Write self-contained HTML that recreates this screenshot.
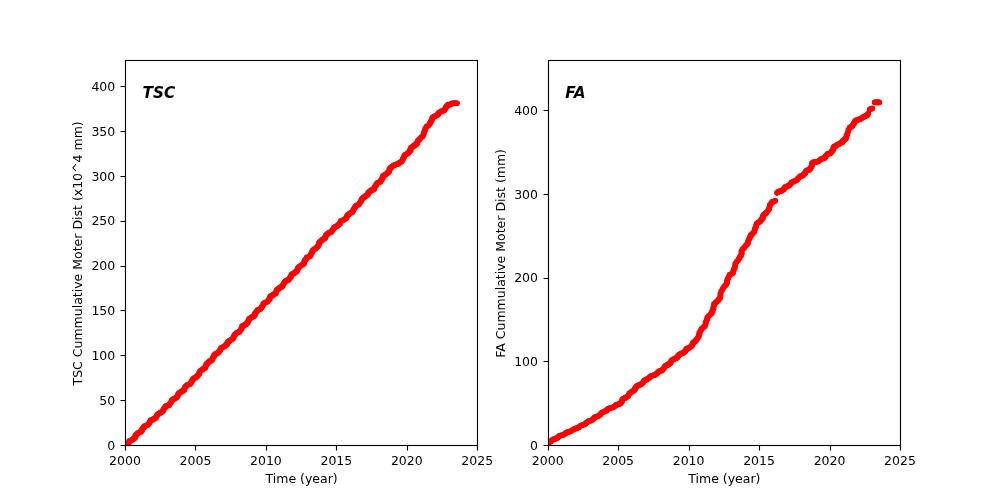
<!DOCTYPE html>
<html lang="en"><head><meta charset="utf-8"><title>Cumulative Motor Distance</title>
<style>
html,body{margin:0;padding:0;background:#fff;}
body{width:1000px;height:500px;overflow:hidden;}
svg{display:block;}
svg text{font-family:'DejaVu Sans','Liberation Sans',sans-serif;font-size:12.5px;fill:#000;}
.t{text-anchor:middle;}
.e{text-anchor:end;}
.b{font-size:15.28px;font-weight:700;font-style:italic;}
.ax{fill:none;stroke:#000;stroke-width:1.11;stroke-linecap:square;stroke-linejoin:miter;}
.tk{stroke:#000;stroke-width:1.11;fill:none;}
.d{fill:#f00;}
</style></head>
<body>
<svg width="1000" height="500" viewBox="0 0 1000 500">
<rect x="0" y="0" width="1000" height="500" fill="#fff"/>
<g>
<clipPath id="c0"><rect x="125.500" y="60.500" width="352.000" height="385.000"/></clipPath>
<g class="d" clip-path="url(#c0)">
<circle cx="127.72" cy="445.12" r="2.78"/><circle cx="127.81" cy="444.03" r="2.78"/><circle cx="128.73" cy="443.78" r="2.78"/><circle cx="128.69" cy="442.56" r="2.78"/><circle cx="129.30" cy="442.01" r="2.78"/><circle cx="129.27" cy="440.79" r="2.78"/><circle cx="130.54" cy="440.90" r="2.78"/><circle cx="131.03" cy="440.21" r="2.78"/><circle cx="132.17" cy="440.18" r="2.78"/><circle cx="132.34" cy="439.17" r="2.78"/><circle cx="133.57" cy="439.23" r="2.78"/><circle cx="133.78" cy="438.26" r="2.78"/><circle cx="134.93" cy="438.22" r="2.78"/><circle cx="134.91" cy="437.02" r="2.78"/><circle cx="135.67" cy="436.59" r="2.78"/><circle cx="135.38" cy="435.13" r="2.78"/><circle cx="136.40" cy="434.95" r="2.78"/><circle cx="136.74" cy="434.11" r="2.78"/><circle cx="137.62" cy="433.81" r="2.78"/><circle cx="137.88" cy="432.89" r="2.78"/><circle cx="138.90" cy="432.72" r="2.78"/><circle cx="139.49" cy="432.12" r="2.78"/><circle cx="140.69" cy="432.13" r="2.78"/><circle cx="140.99" cy="431.24" r="2.78"/><circle cx="141.97" cy="431.04" r="2.78"/><circle cx="141.73" cy="429.63" r="2.78"/><circle cx="142.62" cy="429.32" r="2.78"/><circle cx="142.66" cy="428.20" r="2.78"/><circle cx="143.72" cy="428.06" r="2.78"/><circle cx="143.62" cy="426.77" r="2.78"/><circle cx="144.62" cy="426.59" r="2.78"/><circle cx="144.86" cy="425.66" r="2.78"/><circle cx="146.12" cy="425.85" r="2.78"/><circle cx="146.69" cy="425.31" r="2.78"/><circle cx="147.79" cy="425.35" r="2.78"/><circle cx="147.82" cy="424.20" r="2.78"/><circle cx="148.75" cy="424.06" r="2.78"/><circle cx="148.93" cy="423.08" r="2.78"/><circle cx="149.80" cy="422.85" r="2.78"/><circle cx="149.82" cy="421.70" r="2.78"/><circle cx="150.53" cy="421.31" r="2.78"/><circle cx="150.51" cy="420.10" r="2.78"/><circle cx="151.62" cy="420.16" r="2.78"/><circle cx="152.20" cy="419.62" r="2.78"/><circle cx="153.27" cy="419.63" r="2.78"/><circle cx="153.54" cy="418.74" r="2.78"/><circle cx="154.65" cy="418.79" r="2.78"/><circle cx="154.95" cy="417.95" r="2.78"/><circle cx="156.06" cy="418.01" r="2.78"/><circle cx="156.08" cy="416.84" r="2.78"/><circle cx="156.76" cy="416.41" r="2.78"/><circle cx="156.75" cy="415.23" r="2.78"/><circle cx="157.51" cy="414.90" r="2.78"/><circle cx="157.74" cy="413.96" r="2.78"/><circle cx="158.86" cy="414.03" r="2.78"/><circle cx="159.17" cy="413.21" r="2.78"/><circle cx="160.14" cy="413.08" r="2.78"/><circle cx="160.53" cy="412.29" r="2.78"/><circle cx="161.76" cy="412.35" r="2.78"/><circle cx="162.18" cy="411.58" r="2.78"/><circle cx="163.11" cy="411.34" r="2.78"/><circle cx="163.06" cy="410.11" r="2.78"/><circle cx="163.65" cy="409.53" r="2.78"/><circle cx="163.71" cy="408.41" r="2.78"/><circle cx="164.69" cy="408.21" r="2.78"/><circle cx="164.78" cy="407.14" r="2.78"/><circle cx="165.74" cy="406.91" r="2.78"/><circle cx="165.86" cy="405.86" r="2.78"/><circle cx="167.15" cy="405.97" r="2.78"/><circle cx="167.73" cy="405.38" r="2.78"/><circle cx="169.12" cy="405.59" r="2.78"/><circle cx="169.17" cy="404.46" r="2.78"/><circle cx="169.96" cy="404.07" r="2.78"/><circle cx="170.05" cy="402.99" r="2.78"/><circle cx="171.07" cy="402.83" r="2.78"/><circle cx="171.08" cy="401.67" r="2.78"/><circle cx="171.84" cy="401.25" r="2.78"/><circle cx="171.72" cy="399.96" r="2.78"/><circle cx="172.63" cy="399.69" r="2.78"/><circle cx="173.09" cy="398.98" r="2.78"/><circle cx="174.52" cy="399.23" r="2.78"/><circle cx="174.71" cy="398.24" r="2.78"/><circle cx="175.87" cy="398.23" r="2.78"/><circle cx="176.00" cy="397.18" r="2.78"/><circle cx="177.15" cy="397.15" r="2.78"/><circle cx="177.30" cy="396.13" r="2.78"/><circle cx="178.01" cy="395.66" r="2.78"/><circle cx="177.83" cy="394.31" r="2.78"/><circle cx="178.67" cy="393.97" r="2.78"/><circle cx="178.83" cy="392.96" r="2.78"/><circle cx="179.95" cy="392.89" r="2.78"/><circle cx="180.33" cy="392.10" r="2.78"/><circle cx="181.42" cy="392.02" r="2.78"/><circle cx="181.69" cy="391.10" r="2.78"/><circle cx="182.90" cy="391.14" r="2.78"/><circle cx="183.24" cy="390.31" r="2.78"/><circle cx="184.27" cy="390.16" r="2.78"/><circle cx="184.18" cy="388.89" r="2.78"/><circle cx="184.81" cy="388.35" r="2.78"/><circle cx="184.78" cy="387.14" r="2.78"/><circle cx="185.88" cy="387.07" r="2.78"/><circle cx="185.92" cy="385.93" r="2.78"/><circle cx="186.91" cy="385.75" r="2.78"/><circle cx="187.10" cy="384.76" r="2.78"/><circle cx="188.37" cy="384.85" r="2.78"/><circle cx="188.89" cy="384.19" r="2.78"/><circle cx="190.21" cy="384.34" r="2.78"/><circle cx="190.25" cy="383.20" r="2.78"/><circle cx="191.26" cy="383.04" r="2.78"/><circle cx="191.18" cy="381.78" r="2.78"/><circle cx="192.05" cy="381.47" r="2.78"/><circle cx="192.07" cy="380.32" r="2.78"/><circle cx="192.99" cy="380.06" r="2.78"/><circle cx="192.91" cy="378.83" r="2.78"/><circle cx="193.68" cy="378.41" r="2.78"/><circle cx="194.26" cy="377.76" r="2.78"/><circle cx="195.70" cy="377.86" r="2.78"/><circle cx="195.99" cy="376.94" r="2.78"/><circle cx="197.11" cy="376.76" r="2.78"/><circle cx="197.12" cy="375.58" r="2.78"/><circle cx="198.12" cy="375.29" r="2.78"/><circle cx="198.48" cy="374.42" r="2.78"/><circle cx="199.37" cy="374.03" r="2.78"/><circle cx="199.10" cy="372.61" r="2.78"/><circle cx="199.80" cy="372.05" r="2.78"/><circle cx="199.89" cy="370.95" r="2.78"/><circle cx="201.06" cy="370.80" r="2.78"/><circle cx="201.40" cy="369.93" r="2.78"/><circle cx="202.51" cy="369.72" r="2.78"/><circle cx="202.78" cy="368.78" r="2.78"/><circle cx="204.03" cy="368.72" r="2.78"/><circle cx="204.46" cy="367.91" r="2.78"/><circle cx="205.59" cy="367.74" r="2.78"/><circle cx="205.38" cy="366.36" r="2.78"/><circle cx="206.05" cy="365.78" r="2.78"/><circle cx="205.99" cy="364.54" r="2.78"/><circle cx="206.97" cy="364.23" r="2.78"/><circle cx="207.08" cy="363.14" r="2.78"/><circle cx="208.11" cy="362.88" r="2.78"/><circle cx="208.35" cy="361.91" r="2.78"/><circle cx="209.52" cy="361.77" r="2.78"/><circle cx="209.83" cy="360.86" r="2.78"/><circle cx="211.19" cy="360.89" r="2.78"/><circle cx="211.48" cy="359.97" r="2.78"/><circle cx="212.45" cy="359.64" r="2.78"/><circle cx="212.37" cy="358.39" r="2.78"/><circle cx="213.20" cy="357.94" r="2.78"/><circle cx="213.11" cy="356.68" r="2.78"/><circle cx="214.23" cy="356.49" r="2.78"/><circle cx="214.02" cy="355.12" r="2.78"/><circle cx="214.91" cy="354.74" r="2.78"/><circle cx="215.29" cy="353.89" r="2.78"/><circle cx="216.74" cy="354.00" r="2.78"/><circle cx="217.06" cy="353.10" r="2.78"/><circle cx="218.34" cy="353.10" r="2.78"/><circle cx="218.43" cy="352.01" r="2.78"/><circle cx="219.20" cy="351.66" r="2.78"/><circle cx="219.32" cy="350.63" r="2.78"/><circle cx="220.28" cy="350.48" r="2.78"/><circle cx="220.41" cy="349.45" r="2.78"/><circle cx="221.07" cy="348.98" r="2.78"/><circle cx="221.02" cy="347.75" r="2.78"/><circle cx="222.00" cy="347.61" r="2.78"/><circle cx="222.64" cy="347.12" r="2.78"/><circle cx="223.71" cy="347.10" r="2.78"/><circle cx="224.11" cy="346.35" r="2.78"/><circle cx="225.02" cy="346.15" r="2.78"/><circle cx="225.31" cy="345.28" r="2.78"/><circle cx="226.45" cy="345.33" r="2.78"/><circle cx="226.54" cy="344.24" r="2.78"/><circle cx="227.33" cy="343.91" r="2.78"/><circle cx="227.20" cy="342.60" r="2.78"/><circle cx="227.90" cy="342.16" r="2.78"/><circle cx="228.22" cy="341.34" r="2.78"/><circle cx="229.39" cy="341.41" r="2.78"/><circle cx="229.60" cy="340.49" r="2.78"/><circle cx="230.50" cy="340.17" r="2.78"/><circle cx="231.00" cy="339.46" r="2.78"/><circle cx="232.30" cy="339.48" r="2.78"/><circle cx="232.59" cy="338.57" r="2.78"/><circle cx="233.60" cy="338.34" r="2.78"/><circle cx="233.36" cy="336.94" r="2.78"/><circle cx="234.12" cy="336.46" r="2.78"/><circle cx="234.20" cy="335.36" r="2.78"/><circle cx="235.19" cy="335.09" r="2.78"/><circle cx="235.26" cy="333.98" r="2.78"/><circle cx="236.11" cy="333.60" r="2.78"/><circle cx="236.43" cy="332.72" r="2.78"/><circle cx="237.63" cy="332.65" r="2.78"/><circle cx="238.27" cy="332.06" r="2.78"/><circle cx="239.55" cy="332.08" r="2.78"/><circle cx="239.66" cy="331.00" r="2.78"/><circle cx="240.39" cy="330.50" r="2.78"/><circle cx="240.52" cy="329.44" r="2.78"/><circle cx="241.46" cy="329.14" r="2.78"/><circle cx="241.49" cy="327.99" r="2.78"/><circle cx="242.18" cy="327.45" r="2.78"/><circle cx="241.99" cy="326.10" r="2.78"/><circle cx="243.03" cy="325.88" r="2.78"/><circle cx="243.62" cy="325.26" r="2.78"/><circle cx="244.99" cy="325.35" r="2.78"/><circle cx="245.27" cy="324.43" r="2.78"/><circle cx="246.41" cy="324.30" r="2.78"/><circle cx="246.41" cy="323.13" r="2.78"/><circle cx="247.63" cy="323.09" r="2.78"/><circle cx="247.76" cy="322.03" r="2.78"/><circle cx="248.50" cy="321.53" r="2.78"/><circle cx="248.38" cy="320.25" r="2.78"/><circle cx="249.12" cy="319.75" r="2.78"/><circle cx="249.12" cy="318.57" r="2.78"/><circle cx="250.34" cy="318.53" r="2.78"/><circle cx="250.83" cy="317.81" r="2.78"/><circle cx="251.86" cy="317.59" r="2.78"/><circle cx="252.01" cy="316.55" r="2.78"/><circle cx="253.46" cy="316.71" r="2.78"/><circle cx="253.69" cy="315.75" r="2.78"/><circle cx="254.86" cy="315.65" r="2.78"/><circle cx="254.68" cy="314.32" r="2.78"/><circle cx="255.29" cy="313.70" r="2.78"/><circle cx="255.33" cy="312.56" r="2.78"/><circle cx="256.38" cy="312.36" r="2.78"/><circle cx="256.48" cy="311.27" r="2.78"/><circle cx="257.44" cy="310.98" r="2.78"/><circle cx="257.49" cy="309.85" r="2.78"/><circle cx="258.72" cy="309.82" r="2.78"/><circle cx="259.34" cy="309.22" r="2.78"/><circle cx="260.57" cy="309.18" r="2.78"/><circle cx="260.74" cy="308.16" r="2.78"/><circle cx="261.60" cy="307.78" r="2.78"/><circle cx="261.65" cy="306.65" r="2.78"/><circle cx="262.56" cy="306.33" r="2.78"/><circle cx="262.69" cy="305.28" r="2.78"/><circle cx="263.47" cy="304.86" r="2.78"/><circle cx="263.27" cy="303.49" r="2.78"/><circle cx="264.19" cy="303.21" r="2.78"/><circle cx="264.70" cy="302.53" r="2.78"/><circle cx="265.96" cy="302.57" r="2.78"/><circle cx="266.56" cy="301.98" r="2.78"/><circle cx="267.60" cy="301.80" r="2.78"/><circle cx="267.70" cy="300.72" r="2.78"/><circle cx="268.58" cy="300.40" r="2.78"/><circle cx="268.81" cy="299.45" r="2.78"/><circle cx="269.81" cy="299.24" r="2.78"/><circle cx="269.49" cy="297.76" r="2.78"/><circle cx="270.20" cy="297.27" r="2.78"/><circle cx="270.22" cy="296.11" r="2.78"/><circle cx="271.46" cy="296.14" r="2.78"/><circle cx="271.97" cy="295.46" r="2.78"/><circle cx="273.13" cy="295.40" r="2.78"/><circle cx="273.22" cy="294.32" r="2.78"/><circle cx="274.33" cy="294.21" r="2.78"/><circle cx="274.84" cy="293.53" r="2.78"/><circle cx="276.04" cy="293.52" r="2.78"/><circle cx="275.92" cy="292.23" r="2.78"/><circle cx="276.58" cy="291.69" r="2.78"/><circle cx="276.41" cy="290.35" r="2.78"/><circle cx="277.23" cy="289.97" r="2.78"/><circle cx="277.57" cy="289.12" r="2.78"/><circle cx="278.64" cy="288.98" r="2.78"/><circle cx="278.86" cy="288.02" r="2.78"/><circle cx="279.97" cy="287.91" r="2.78"/><circle cx="280.25" cy="287.01" r="2.78"/><circle cx="281.68" cy="287.22" r="2.78"/><circle cx="281.91" cy="286.27" r="2.78"/><circle cx="282.88" cy="286.03" r="2.78"/><circle cx="282.78" cy="284.75" r="2.78"/><circle cx="283.54" cy="284.32" r="2.78"/><circle cx="283.63" cy="283.23" r="2.78"/><circle cx="284.60" cy="282.99" r="2.78"/><circle cx="284.58" cy="281.80" r="2.78"/><circle cx="285.46" cy="281.48" r="2.78"/><circle cx="285.82" cy="280.65" r="2.78"/><circle cx="287.19" cy="280.80" r="2.78"/><circle cx="287.59" cy="280.01" r="2.78"/><circle cx="288.72" cy="279.92" r="2.78"/><circle cx="288.92" cy="278.95" r="2.78"/><circle cx="289.72" cy="278.55" r="2.78"/><circle cx="289.81" cy="277.46" r="2.78"/><circle cx="290.85" cy="277.29" r="2.78"/><circle cx="290.83" cy="276.09" r="2.78"/><circle cx="291.37" cy="275.44" r="2.78"/><circle cx="291.46" cy="274.35" r="2.78"/><circle cx="292.62" cy="274.30" r="2.78"/><circle cx="293.06" cy="273.55" r="2.78"/><circle cx="294.25" cy="273.53" r="2.78"/><circle cx="294.41" cy="272.50" r="2.78"/><circle cx="295.67" cy="272.55" r="2.78"/><circle cx="295.89" cy="271.59" r="2.78"/><circle cx="296.91" cy="271.39" r="2.78"/><circle cx="297.19" cy="270.49" r="2.78"/><circle cx="297.68" cy="269.79" r="2.78"/><circle cx="297.48" cy="268.42" r="2.78"/><circle cx="298.39" cy="268.13" r="2.78"/><circle cx="298.54" cy="267.13" r="2.78"/><circle cx="299.73" cy="267.08" r="2.78"/><circle cx="299.96" cy="266.09" r="2.78"/><circle cx="301.02" cy="265.80" r="2.78"/><circle cx="301.44" cy="264.94" r="2.78"/><circle cx="302.72" cy="264.81" r="2.78"/><circle cx="303.13" cy="263.95" r="2.78"/><circle cx="304.23" cy="263.67" r="2.78"/><circle cx="303.90" cy="262.20" r="2.78"/><circle cx="304.57" cy="261.56" r="2.78"/><circle cx="304.58" cy="260.37" r="2.78"/><circle cx="305.65" cy="260.06" r="2.78"/><circle cx="305.84" cy="259.02" r="2.78"/><circle cx="306.53" cy="258.40" r="2.78"/><circle cx="306.67" cy="257.32" r="2.78"/><circle cx="308.04" cy="257.26" r="2.78"/><circle cx="308.80" cy="256.69" r="2.78"/><circle cx="309.98" cy="256.47" r="2.78"/><circle cx="310.06" cy="255.35" r="2.78"/><circle cx="310.98" cy="254.91" r="2.78"/><circle cx="310.95" cy="253.69" r="2.78"/><circle cx="311.87" cy="253.25" r="2.78"/><circle cx="311.85" cy="252.05" r="2.78"/><circle cx="312.76" cy="251.61" r="2.78"/><circle cx="312.53" cy="250.22" r="2.78"/><circle cx="313.60" cy="249.91" r="2.78"/><circle cx="314.12" cy="249.14" r="2.78"/><circle cx="315.48" cy="249.07" r="2.78"/><circle cx="315.62" cy="247.99" r="2.78"/><circle cx="316.74" cy="247.72" r="2.78"/><circle cx="316.93" cy="246.69" r="2.78"/><circle cx="318.07" cy="246.43" r="2.78"/><circle cx="318.32" cy="245.44" r="2.78"/><circle cx="319.02" cy="244.83" r="2.78"/><circle cx="318.67" cy="243.35" r="2.78"/><circle cx="319.50" cy="242.83" r="2.78"/><circle cx="319.53" cy="241.67" r="2.78"/><circle cx="320.92" cy="241.62" r="2.78"/><circle cx="321.08" cy="240.56" r="2.78"/><circle cx="322.30" cy="240.37" r="2.78"/><circle cx="322.42" cy="239.28" r="2.78"/><circle cx="323.88" cy="239.29" r="2.78"/><circle cx="324.35" cy="238.49" r="2.78"/><circle cx="325.34" cy="238.17" r="2.78"/><circle cx="325.10" cy="236.74" r="2.78"/><circle cx="325.90" cy="236.42" r="2.78"/><circle cx="325.71" cy="235.06" r="2.78"/><circle cx="326.69" cy="234.94" r="2.78"/><circle cx="326.98" cy="234.08" r="2.78"/><circle cx="327.89" cy="233.89" r="2.78"/><circle cx="328.10" cy="232.94" r="2.78"/><circle cx="329.14" cy="232.90" r="2.78"/><circle cx="329.71" cy="232.34" r="2.78"/><circle cx="330.93" cy="232.50" r="2.78"/><circle cx="331.15" cy="231.55" r="2.78"/><circle cx="331.95" cy="231.25" r="2.78"/><circle cx="332.07" cy="230.20" r="2.78"/><circle cx="332.99" cy="230.02" r="2.78"/><circle cx="333.15" cy="229.02" r="2.78"/><circle cx="333.84" cy="228.59" r="2.78"/><circle cx="333.86" cy="227.44" r="2.78"/><circle cx="334.81" cy="227.30" r="2.78"/><circle cx="335.19" cy="226.53" r="2.78"/><circle cx="336.42" cy="226.70" r="2.78"/><circle cx="336.88" cy="226.02" r="2.78"/><circle cx="337.87" cy="225.92" r="2.78"/><circle cx="337.98" cy="224.86" r="2.78"/><circle cx="338.96" cy="224.75" r="2.78"/><circle cx="339.21" cy="223.85" r="2.78"/><circle cx="340.21" cy="223.76" r="2.78"/><circle cx="340.03" cy="222.38" r="2.78"/><circle cx="340.76" cy="222.00" r="2.78"/><circle cx="340.77" cy="220.83" r="2.78"/><circle cx="341.91" cy="220.90" r="2.78"/><circle cx="342.46" cy="220.32" r="2.78"/><circle cx="343.46" cy="220.22" r="2.78"/><circle cx="343.82" cy="219.45" r="2.78"/><circle cx="344.83" cy="219.36" r="2.78"/><circle cx="345.29" cy="218.68" r="2.78"/><circle cx="346.24" cy="218.55" r="2.78"/><circle cx="346.44" cy="217.59" r="2.78"/><circle cx="347.07" cy="217.10" r="2.78"/><circle cx="346.92" cy="215.76" r="2.78"/><circle cx="347.74" cy="215.47" r="2.78"/><circle cx="347.95" cy="214.57" r="2.78"/><circle cx="349.03" cy="214.50" r="2.78"/><circle cx="349.19" cy="213.44" r="2.78"/><circle cx="350.28" cy="213.22" r="2.78"/><circle cx="350.85" cy="212.54" r="2.78"/><circle cx="352.16" cy="212.49" r="2.78"/><circle cx="352.54" cy="211.63" r="2.78"/><circle cx="353.28" cy="211.09" r="2.78"/><circle cx="353.21" cy="209.84" r="2.78"/><circle cx="353.93" cy="209.28" r="2.78"/><circle cx="354.18" cy="208.32" r="2.78"/><circle cx="355.06" cy="207.89" r="2.78"/><circle cx="355.00" cy="206.66" r="2.78"/><circle cx="355.82" cy="206.19" r="2.78"/><circle cx="356.19" cy="205.32" r="2.78"/><circle cx="357.59" cy="205.35" r="2.78"/><circle cx="358.20" cy="204.69" r="2.78"/><circle cx="359.18" cy="204.36" r="2.78"/><circle cx="359.38" cy="203.35" r="2.78"/><circle cx="360.19" cy="202.86" r="2.78"/><circle cx="360.36" cy="201.83" r="2.78"/><circle cx="361.21" cy="201.38" r="2.78"/><circle cx="361.15" cy="200.15" r="2.78"/><circle cx="361.86" cy="199.58" r="2.78"/><circle cx="361.89" cy="198.41" r="2.78"/><circle cx="362.95" cy="198.15" r="2.78"/><circle cx="363.35" cy="197.31" r="2.78"/><circle cx="364.70" cy="197.32" r="2.78"/><circle cx="364.86" cy="196.24" r="2.78"/><circle cx="366.08" cy="196.34" r="2.78"/><circle cx="366.23" cy="195.35" r="2.78"/><circle cx="367.30" cy="195.33" r="2.78"/><circle cx="367.46" cy="194.33" r="2.78"/><circle cx="368.29" cy="194.05" r="2.78"/><circle cx="368.09" cy="192.65" r="2.78"/><circle cx="368.98" cy="192.44" r="2.78"/><circle cx="369.26" cy="191.56" r="2.78"/><circle cx="370.24" cy="191.45" r="2.78"/><circle cx="370.47" cy="190.51" r="2.78"/><circle cx="371.61" cy="190.56" r="2.78"/><circle cx="371.79" cy="189.60" r="2.78"/><circle cx="373.23" cy="189.91" r="2.78"/><circle cx="373.67" cy="189.15" r="2.78"/><circle cx="374.52" cy="188.69" r="2.78"/><circle cx="374.42" cy="187.39" r="2.78"/><circle cx="375.17" cy="186.86" r="2.78"/><circle cx="375.21" cy="185.71" r="2.78"/><circle cx="376.25" cy="185.43" r="2.78"/><circle cx="376.29" cy="184.27" r="2.78"/><circle cx="377.06" cy="183.76" r="2.78"/><circle cx="377.17" cy="182.67" r="2.78"/><circle cx="378.70" cy="182.81" r="2.78"/><circle cx="379.06" cy="181.95" r="2.78"/><circle cx="380.52" cy="182.02" r="2.78"/><circle cx="380.51" cy="180.83" r="2.78"/><circle cx="381.31" cy="180.35" r="2.78"/><circle cx="381.35" cy="179.19" r="2.78"/><circle cx="382.49" cy="178.99" r="2.78"/><circle cx="382.28" cy="177.62" r="2.78"/><circle cx="383.22" cy="177.26" r="2.78"/><circle cx="382.92" cy="175.81" r="2.78"/><circle cx="384.06" cy="175.62" r="2.78"/><circle cx="384.59" cy="174.89" r="2.78"/><circle cx="385.91" cy="174.85" r="2.78"/><circle cx="386.21" cy="173.93" r="2.78"/><circle cx="387.15" cy="173.56" r="2.78"/><circle cx="387.34" cy="172.54" r="2.78"/><circle cx="388.65" cy="172.49" r="2.78"/><circle cx="388.77" cy="171.41" r="2.78"/><circle cx="389.58" cy="170.92" r="2.78"/><circle cx="389.12" cy="169.33" r="2.78"/><circle cx="390.05" cy="168.92" r="2.78"/><circle cx="390.14" cy="167.81" r="2.78"/><circle cx="391.40" cy="167.68" r="2.78"/><circle cx="391.70" cy="166.74" r="2.78"/><circle cx="392.66" cy="166.36" r="2.78"/><circle cx="393.13" cy="165.55" r="2.78"/><circle cx="394.06" cy="165.32" r="2.78"/><circle cx="394.47" cy="164.99" r="2.78"/><circle cx="395.06" cy="165.02" r="2.78"/><circle cx="395.54" cy="164.56" r="2.78"/><circle cx="396.14" cy="164.48" r="2.78"/><circle cx="396.70" cy="164.23" r="2.78"/><circle cx="397.29" cy="164.17" r="2.78"/><circle cx="397.75" cy="163.82" r="2.78"/><circle cx="398.42" cy="163.91" r="2.78"/><circle cx="398.71" cy="162.94" r="2.78"/><circle cx="399.72" cy="162.77" r="2.78"/><circle cx="400.17" cy="161.98" r="2.78"/><circle cx="401.52" cy="161.97" r="2.78"/><circle cx="401.88" cy="161.04" r="2.78"/><circle cx="402.53" cy="160.33" r="2.78"/><circle cx="402.58" cy="159.15" r="2.78"/><circle cx="403.37" cy="158.56" r="2.78"/><circle cx="403.49" cy="157.44" r="2.78"/><circle cx="404.27" cy="156.84" r="2.78"/><circle cx="404.23" cy="155.59" r="2.78"/><circle cx="405.17" cy="155.12" r="2.78"/><circle cx="405.60" cy="154.24" r="2.78"/><circle cx="406.90" cy="154.16" r="2.78"/><circle cx="407.40" cy="153.42" r="2.78"/><circle cx="408.48" cy="153.16" r="2.78"/><circle cx="408.58" cy="152.07" r="2.78"/><circle cx="409.63" cy="151.79" r="2.78"/><circle cx="409.66" cy="150.63" r="2.78"/><circle cx="410.76" cy="150.41" r="2.78"/><circle cx="410.39" cy="148.90" r="2.78"/><circle cx="411.01" cy="148.25" r="2.78"/><circle cx="411.27" cy="147.29" r="2.78"/><circle cx="412.50" cy="147.18" r="2.78"/><circle cx="412.85" cy="146.29" r="2.78"/><circle cx="414.09" cy="146.20" r="2.78"/><circle cx="414.11" cy="145.05" r="2.78"/><circle cx="415.43" cy="145.15" r="2.78"/><circle cx="415.71" cy="144.26" r="2.78"/><circle cx="416.89" cy="144.25" r="2.78"/><circle cx="416.75" cy="142.94" r="2.78"/><circle cx="417.55" cy="142.55" r="2.78"/><circle cx="417.41" cy="141.24" r="2.78"/><circle cx="418.19" cy="140.83" r="2.78"/><circle cx="418.38" cy="139.92" r="2.78"/><circle cx="419.47" cy="139.77" r="2.78"/><circle cx="419.67" cy="138.76" r="2.78"/><circle cx="420.84" cy="138.10" r="2.78"/><circle cx="421.35" cy="137.00" r="2.78"/><circle cx="422.79" cy="136.42" r="2.78"/><circle cx="423.05" cy="135.17" r="2.78"/><circle cx="423.81" cy="134.21" r="2.78"/><circle cx="423.61" cy="132.72" r="2.78"/><circle cx="424.48" cy="131.82" r="2.78"/><circle cx="424.60" cy="130.49" r="2.78"/><circle cx="425.44" cy="129.66" r="2.78"/><circle cx="425.30" cy="128.26" r="2.78"/><circle cx="426.21" cy="127.49" r="2.78"/><circle cx="426.56" cy="126.38" r="2.78"/><circle cx="428.06" cy="125.98" r="2.78"/><circle cx="428.56" cy="124.96" r="2.78"/><circle cx="429.71" cy="124.36" r="2.78"/><circle cx="429.70" cy="123.02" r="2.78"/><circle cx="430.72" cy="122.41" r="2.78"/><circle cx="430.76" cy="121.26" r="2.78"/><circle cx="431.71" cy="120.75" r="2.78"/><circle cx="431.66" cy="119.50" r="2.78"/><circle cx="432.37" cy="118.81" r="2.78"/><circle cx="432.27" cy="117.45" r="2.78"/><circle cx="433.57" cy="117.25" r="2.78"/><circle cx="433.88" cy="116.34" r="2.78"/><circle cx="435.13" cy="116.62" r="2.78"/><circle cx="435.50" cy="115.93" r="2.78"/><circle cx="436.28" cy="115.74" r="2.78"/><circle cx="436.72" cy="115.11" r="2.78"/><circle cx="437.63" cy="115.10" r="2.78"/><circle cx="437.97" cy="114.33" r="2.78"/><circle cx="438.64" cy="113.99" r="2.78"/><circle cx="438.63" cy="112.75" r="2.78"/><circle cx="439.43" cy="112.60" r="2.78"/><circle cx="439.86" cy="111.94" r="2.78"/><circle cx="440.71" cy="111.92" r="2.78"/><circle cx="441.09" cy="111.21" r="2.78"/><circle cx="441.97" cy="111.25" r="2.78"/><circle cx="442.36" cy="110.57" r="2.78"/><circle cx="443.46" cy="110.86" r="2.78"/><circle cx="443.96" cy="110.32" r="2.78"/><circle cx="444.86" cy="110.09" r="2.78"/><circle cx="444.91" cy="108.86" r="2.78"/><circle cx="445.61" cy="108.30" r="2.78"/><circle cx="445.65" cy="107.15" r="2.78"/><circle cx="446.72" cy="106.92" r="2.78"/><circle cx="446.81" cy="105.77" r="2.78"/><circle cx="447.59" cy="105.27" r="2.78"/><circle cx="447.99" cy="104.55" r="2.78"/><circle cx="448.98" cy="104.79" r="2.78"/><circle cx="449.57" cy="104.48" r="2.78"/><circle cx="450.40" cy="104.66" r="2.78"/><circle cx="450.77" cy="103.93" r="2.78"/><circle cx="451.40" cy="103.78" r="2.78"/><circle cx="451.91" cy="103.38" r="2.78"/><circle cx="452.51" cy="103.44" r="2.78"/><circle cx="453.09" cy="103.36" r="2.78"/><circle cx="453.68" cy="103.36" r="2.78"/><circle cx="454.26" cy="103.33" r="2.78"/><circle cx="454.85" cy="103.33" r="2.78"/><circle cx="455.44" cy="103.32" r="2.78"/><circle cx="456.03" cy="103.33" r="2.78"/><circle cx="456.61" cy="103.31" r="2.78"/><circle cx="457.20" cy="103.31" r="2.78"/>
</g>
<path class="tk" d="M125.50 445.50V450.50M195.50 445.50V450.50M266.50 445.50V450.50M336.50 445.50V450.50M407.50 445.50V450.50M477.50 445.50V450.50M125.50 445.50H120.50M125.50 400.50H120.50M125.50 355.50H120.50M125.50 310.50H120.50M125.50 266.50H120.50M125.50 221.50H120.50M125.50 176.50H120.50M125.50 131.50H120.50M125.50 86.50H120.50"/>
<rect class="ax" x="125.50" y="60.50" width="352.00" height="385.00"/>
<text class="t" x="125.00" y="465.27">2000</text>
<text class="t" x="195.45" y="465.27">2005</text>
<text class="t" x="265.91" y="465.27">2010</text>
<text class="t" x="336.36" y="465.27">2015</text>
<text class="t" x="406.82" y="465.27">2020</text>
<text class="t" x="477.27" y="465.27">2025</text>
<text class="e" x="115.28" y="449.75">0</text>
<text class="e" x="115.28" y="404.88">50</text>
<text class="e" x="115.28" y="360.01">100</text>
<text class="e" x="115.28" y="315.13">150</text>
<text class="e" x="115.28" y="270.26">200</text>
<text class="e" x="115.28" y="225.39">250</text>
<text class="e" x="115.28" y="180.52">300</text>
<text class="e" x="115.28" y="135.65">350</text>
<text class="e" x="115.28" y="90.78">400</text>
<text class="t" x="301.64" y="482.92">Time (year)</text>
<text class="t" transform="translate(82.26 253.4) rotate(-90)">TSC Cummulative Moter Dist (x10^4 mm)</text>
<text class="b" x="142.61" y="97.5">TSC</text>
</g>
<g>
<clipPath id="c1"><rect x="548.500" y="60.500" width="352.000" height="385.000"/></clipPath>
<g class="d" clip-path="url(#c1)">
<circle cx="548.89" cy="442.66" r="2.78"/><circle cx="549.30" cy="442.02" r="2.78"/><circle cx="550.06" cy="442.04" r="2.78"/><circle cx="550.51" cy="441.46" r="2.78"/><circle cx="551.20" cy="441.35" r="2.78"/><circle cx="551.53" cy="440.54" r="2.78"/><circle cx="552.11" cy="440.19" r="2.78"/><circle cx="552.54" cy="439.58" r="2.78"/><circle cx="553.33" cy="439.60" r="2.78"/><circle cx="553.81" cy="439.07" r="2.78"/><circle cx="554.65" cy="439.18" r="2.78"/><circle cx="555.09" cy="438.58" r="2.78"/><circle cx="555.95" cy="438.70" r="2.78"/><circle cx="556.40" cy="438.13" r="2.78"/><circle cx="557.26" cy="438.26" r="2.78"/><circle cx="557.59" cy="437.48" r="2.78"/><circle cx="558.20" cy="437.18" r="2.78"/><circle cx="558.52" cy="436.35" r="2.78"/><circle cx="559.21" cy="436.22" r="2.78"/><circle cx="559.67" cy="435.69" r="2.78"/><circle cx="560.42" cy="435.73" r="2.78"/><circle cx="560.90" cy="435.22" r="2.78"/><circle cx="561.63" cy="435.25" r="2.78"/><circle cx="562.20" cy="434.93" r="2.78"/><circle cx="563.00" cy="435.10" r="2.78"/><circle cx="563.52" cy="434.67" r="2.78"/><circle cx="564.19" cy="434.57" r="2.78"/><circle cx="564.57" cy="433.85" r="2.78"/><circle cx="565.20" cy="433.65" r="2.78"/><circle cx="565.68" cy="433.15" r="2.78"/><circle cx="566.37" cy="433.08" r="2.78"/><circle cx="566.76" cy="432.39" r="2.78"/><circle cx="567.43" cy="432.30" r="2.78"/><circle cx="567.93" cy="431.82" r="2.78"/><circle cx="568.73" cy="432.00" r="2.78"/><circle cx="569.29" cy="431.65" r="2.78"/><circle cx="570.06" cy="431.75" r="2.78"/><circle cx="570.51" cy="431.20" r="2.78"/><circle cx="571.19" cy="431.11" r="2.78"/><circle cx="571.61" cy="430.47" r="2.78"/><circle cx="572.30" cy="430.42" r="2.78"/><circle cx="572.72" cy="429.78" r="2.78"/><circle cx="573.31" cy="429.51" r="2.78"/><circle cx="573.76" cy="428.94" r="2.78"/><circle cx="574.50" cy="428.97" r="2.78"/><circle cx="575.06" cy="428.64" r="2.78"/><circle cx="575.80" cy="428.65" r="2.78"/><circle cx="576.28" cy="428.15" r="2.78"/><circle cx="577.02" cy="428.16" r="2.78"/><circle cx="577.52" cy="427.68" r="2.78"/><circle cx="578.33" cy="427.83" r="2.78"/><circle cx="578.73" cy="427.16" r="2.78"/><circle cx="579.39" cy="427.01" r="2.78"/><circle cx="579.70" cy="426.16" r="2.78"/><circle cx="580.34" cy="425.99" r="2.78"/><circle cx="580.85" cy="425.54" r="2.78"/><circle cx="581.59" cy="425.54" r="2.78"/><circle cx="582.04" cy="424.98" r="2.78"/><circle cx="582.81" cy="425.05" r="2.78"/><circle cx="583.30" cy="424.53" r="2.78"/><circle cx="584.19" cy="424.70" r="2.78"/><circle cx="584.74" cy="424.27" r="2.78"/><circle cx="585.43" cy="424.09" r="2.78"/><circle cx="585.73" cy="423.26" r="2.78"/><circle cx="586.34" cy="422.94" r="2.78"/><circle cx="586.76" cy="422.31" r="2.78"/><circle cx="587.48" cy="422.19" r="2.78"/><circle cx="587.87" cy="421.50" r="2.78"/><circle cx="588.58" cy="421.35" r="2.78"/><circle cx="588.99" cy="420.70" r="2.78"/><circle cx="589.91" cy="420.89" r="2.78"/><circle cx="590.43" cy="420.44" r="2.78"/><circle cx="591.37" cy="420.67" r="2.78"/><circle cx="591.74" cy="419.95" r="2.78"/><circle cx="592.41" cy="419.74" r="2.78"/><circle cx="592.78" cy="419.03" r="2.78"/><circle cx="593.53" cy="418.94" r="2.78"/><circle cx="593.84" cy="418.13" r="2.78"/><circle cx="594.52" cy="417.93" r="2.78"/><circle cx="594.76" cy="416.98" r="2.78"/><circle cx="595.57" cy="417.00" r="2.78"/><circle cx="596.13" cy="416.61" r="2.78"/><circle cx="597.05" cy="416.81" r="2.78"/><circle cx="597.53" cy="416.27" r="2.78"/><circle cx="598.32" cy="416.26" r="2.78"/><circle cx="598.67" cy="415.52" r="2.78"/><circle cx="599.52" cy="415.54" r="2.78"/><circle cx="599.89" cy="414.79" r="2.78"/><circle cx="600.61" cy="414.57" r="2.78"/><circle cx="600.72" cy="413.47" r="2.78"/><circle cx="601.39" cy="413.18" r="2.78"/><circle cx="601.75" cy="412.43" r="2.78"/><circle cx="602.72" cy="412.58" r="2.78"/><circle cx="603.22" cy="412.03" r="2.78"/><circle cx="603.99" cy="411.89" r="2.78"/><circle cx="604.49" cy="411.35" r="2.78"/><circle cx="605.34" cy="411.31" r="2.78"/><circle cx="605.90" cy="410.87" r="2.78"/><circle cx="606.65" cy="410.73" r="2.78"/><circle cx="606.88" cy="409.76" r="2.78"/><circle cx="607.51" cy="409.55" r="2.78"/><circle cx="607.90" cy="408.87" r="2.78"/><circle cx="608.60" cy="408.84" r="2.78"/><circle cx="609.14" cy="408.46" r="2.78"/><circle cx="609.81" cy="408.38" r="2.78"/><circle cx="610.25" cy="407.78" r="2.78"/><circle cx="611.00" cy="407.89" r="2.78"/><circle cx="611.61" cy="407.68" r="2.78"/><circle cx="612.37" cy="407.78" r="2.78"/><circle cx="612.86" cy="407.30" r="2.78"/><circle cx="613.50" cy="407.17" r="2.78"/><circle cx="613.93" cy="406.54" r="2.78"/><circle cx="614.63" cy="406.50" r="2.78"/><circle cx="615.06" cy="405.91" r="2.78"/><circle cx="615.73" cy="405.73" r="2.78"/><circle cx="615.98" cy="404.80" r="2.78"/><circle cx="616.74" cy="404.75" r="2.78"/><circle cx="617.27" cy="404.32" r="2.78"/><circle cx="618.19" cy="404.54" r="2.78"/><circle cx="618.73" cy="404.09" r="2.78"/><circle cx="619.62" cy="404.14" r="2.78"/><circle cx="619.81" cy="403.26" r="2.78"/><circle cx="620.95" cy="403.17" r="2.78"/><circle cx="621.18" cy="402.12" r="2.78"/><circle cx="622.10" cy="401.75" r="2.78"/><circle cx="621.88" cy="400.36" r="2.78"/><circle cx="622.57" cy="399.78" r="2.78"/><circle cx="622.68" cy="398.71" r="2.78"/><circle cx="623.78" cy="398.73" r="2.78"/><circle cx="624.30" cy="398.14" r="2.78"/><circle cx="625.36" cy="398.20" r="2.78"/><circle cx="625.57" cy="397.25" r="2.78"/><circle cx="626.58" cy="397.24" r="2.78"/><circle cx="627.12" cy="396.69" r="2.78"/><circle cx="628.04" cy="396.58" r="2.78"/><circle cx="628.23" cy="395.61" r="2.78"/><circle cx="628.72" cy="395.00" r="2.78"/><circle cx="628.87" cy="393.99" r="2.78"/><circle cx="629.70" cy="393.78" r="2.78"/><circle cx="629.83" cy="392.80" r="2.78"/><circle cx="630.94" cy="392.85" r="2.78"/><circle cx="631.17" cy="391.84" r="2.78"/><circle cx="632.27" cy="391.63" r="2.78"/><circle cx="632.73" cy="390.84" r="2.78"/><circle cx="633.98" cy="390.72" r="2.78"/><circle cx="634.43" cy="389.91" r="2.78"/><circle cx="635.23" cy="389.43" r="2.78"/><circle cx="634.91" cy="387.92" r="2.78"/><circle cx="635.79" cy="387.52" r="2.78"/><circle cx="636.08" cy="386.74" r="2.78"/><circle cx="636.92" cy="386.65" r="2.78"/><circle cx="637.14" cy="385.73" r="2.78"/><circle cx="637.85" cy="385.51" r="2.78"/><circle cx="638.33" cy="384.96" r="2.78"/><circle cx="639.35" cy="385.21" r="2.78"/><circle cx="639.90" cy="384.76" r="2.78"/><circle cx="640.68" cy="384.67" r="2.78"/><circle cx="641.02" cy="383.91" r="2.78"/><circle cx="641.79" cy="383.77" r="2.78"/><circle cx="642.23" cy="383.16" r="2.78"/><circle cx="642.97" cy="382.97" r="2.78"/><circle cx="643.11" cy="381.93" r="2.78"/><circle cx="643.72" cy="381.46" r="2.78"/><circle cx="643.90" cy="380.49" r="2.78"/><circle cx="644.86" cy="380.42" r="2.78"/><circle cx="645.42" cy="379.88" r="2.78"/><circle cx="646.45" cy="379.90" r="2.78"/><circle cx="646.76" cy="379.08" r="2.78"/><circle cx="647.70" cy="379.00" r="2.78"/><circle cx="648.15" cy="378.34" r="2.78"/><circle cx="649.05" cy="378.31" r="2.78"/><circle cx="649.29" cy="377.53" r="2.78"/><circle cx="649.91" cy="377.30" r="2.78"/><circle cx="650.20" cy="376.43" r="2.78"/><circle cx="650.90" cy="376.37" r="2.78"/><circle cx="651.39" cy="375.87" r="2.78"/><circle cx="652.14" cy="375.90" r="2.78"/><circle cx="652.63" cy="375.41" r="2.78"/><circle cx="653.33" cy="375.34" r="2.78"/><circle cx="653.86" cy="374.93" r="2.78"/><circle cx="654.72" cy="375.18" r="2.78"/><circle cx="655.22" cy="374.71" r="2.78"/><circle cx="655.91" cy="374.58" r="2.78"/><circle cx="656.28" cy="373.89" r="2.78"/><circle cx="656.95" cy="373.65" r="2.78"/><circle cx="657.20" cy="372.73" r="2.78"/><circle cx="657.99" cy="372.58" r="2.78"/><circle cx="658.27" cy="371.73" r="2.78"/><circle cx="659.03" cy="371.52" r="2.78"/><circle cx="659.46" cy="370.86" r="2.78"/><circle cx="660.42" cy="370.92" r="2.78"/><circle cx="661.06" cy="370.55" r="2.78"/><circle cx="662.04" cy="370.63" r="2.78"/><circle cx="662.36" cy="369.82" r="2.78"/><circle cx="663.01" cy="369.45" r="2.78"/><circle cx="663.27" cy="368.55" r="2.78"/><circle cx="664.12" cy="368.32" r="2.78"/><circle cx="664.25" cy="367.28" r="2.78"/><circle cx="664.96" cy="366.89" r="2.78"/><circle cx="665.05" cy="365.81" r="2.78"/><circle cx="666.02" cy="365.70" r="2.78"/><circle cx="666.51" cy="365.06" r="2.78"/><circle cx="667.78" cy="365.29" r="2.78"/><circle cx="668.04" cy="364.40" r="2.78"/><circle cx="669.06" cy="364.36" r="2.78"/><circle cx="669.21" cy="363.33" r="2.78"/><circle cx="670.38" cy="363.46" r="2.78"/><circle cx="670.54" cy="362.46" r="2.78"/><circle cx="671.21" cy="362.02" r="2.78"/><circle cx="671.21" cy="360.86" r="2.78"/><circle cx="671.84" cy="360.43" r="2.78"/><circle cx="672.22" cy="359.69" r="2.78"/><circle cx="673.29" cy="359.83" r="2.78"/><circle cx="673.62" cy="359.03" r="2.78"/><circle cx="674.62" cy="359.07" r="2.78"/><circle cx="674.90" cy="358.22" r="2.78"/><circle cx="676.00" cy="358.39" r="2.78"/><circle cx="676.55" cy="357.88" r="2.78"/><circle cx="677.40" cy="357.73" r="2.78"/><circle cx="677.45" cy="356.59" r="2.78"/><circle cx="678.07" cy="356.16" r="2.78"/><circle cx="678.30" cy="355.22" r="2.78"/><circle cx="679.17" cy="355.14" r="2.78"/><circle cx="679.50" cy="354.38" r="2.78"/><circle cx="680.29" cy="354.25" r="2.78"/><circle cx="680.69" cy="353.58" r="2.78"/><circle cx="681.58" cy="353.62" r="2.78"/><circle cx="682.11" cy="353.12" r="2.78"/><circle cx="683.11" cy="353.31" r="2.78"/><circle cx="683.45" cy="352.55" r="2.78"/><circle cx="684.24" cy="352.43" r="2.78"/><circle cx="684.40" cy="351.42" r="2.78"/><circle cx="685.22" cy="351.33" r="2.78"/><circle cx="685.53" cy="350.51" r="2.78"/><circle cx="686.28" cy="350.18" r="2.78"/><circle cx="686.16" cy="348.86" r="2.78"/><circle cx="687.17" cy="348.81" r="2.78"/><circle cx="687.53" cy="348.03" r="2.78"/><circle cx="688.83" cy="348.30" r="2.78"/><circle cx="689.38" cy="347.72" r="2.78"/><circle cx="690.29" cy="347.53" r="2.78"/><circle cx="690.50" cy="346.60" r="2.78"/><circle cx="691.50" cy="346.45" r="2.78"/><circle cx="691.68" cy="345.45" r="2.78"/><circle cx="692.56" cy="345.17" r="2.78"/><circle cx="692.33" cy="343.75" r="2.78"/><circle cx="693.03" cy="343.29" r="2.78"/><circle cx="693.10" cy="342.26" r="2.78"/><circle cx="694.37" cy="342.34" r="2.78"/><circle cx="694.75" cy="341.63" r="2.78"/><circle cx="696.04" cy="340.96" r="2.78"/><circle cx="696.12" cy="339.51" r="2.78"/><circle cx="697.35" cy="338.70" r="2.78"/><circle cx="697.83" cy="337.50" r="2.78"/><circle cx="698.92" cy="336.73" r="2.78"/><circle cx="698.78" cy="335.32" r="2.78"/><circle cx="699.46" cy="334.37" r="2.78"/><circle cx="699.18" cy="332.86" r="2.78"/><circle cx="700.14" cy="332.06" r="2.78"/><circle cx="700.44" cy="330.89" r="2.78"/><circle cx="701.33" cy="330.06" r="2.78"/><circle cx="701.43" cy="328.77" r="2.78"/><circle cx="702.69" cy="328.15" r="2.78"/><circle cx="703.17" cy="327.06" r="2.78"/><circle cx="704.88" cy="326.54" r="2.78"/><circle cx="705.03" cy="325.17" r="2.78"/><circle cx="705.71" cy="324.08" r="2.78"/><circle cx="705.49" cy="322.53" r="2.78"/><circle cx="706.42" cy="321.58" r="2.78"/><circle cx="706.46" cy="320.17" r="2.78"/><circle cx="707.40" cy="319.23" r="2.78"/><circle cx="707.13" cy="317.64" r="2.78"/><circle cx="708.29" cy="316.87" r="2.78"/><circle cx="708.61" cy="315.69" r="2.78"/><circle cx="710.09" cy="315.16" r="2.78"/><circle cx="710.60" cy="314.08" r="2.78"/><circle cx="711.80" cy="313.39" r="2.78"/><circle cx="711.60" cy="311.92" r="2.78"/><circle cx="712.81" cy="311.20" r="2.78"/><circle cx="712.60" cy="309.57" r="2.78"/><circle cx="713.71" cy="308.49" r="2.78"/><circle cx="713.39" cy="306.75" r="2.78"/><circle cx="714.17" cy="305.51" r="2.78"/><circle cx="714.01" cy="303.80" r="2.78"/><circle cx="715.52" cy="303.05" r="2.78"/><circle cx="715.76" cy="301.99" r="2.78"/><circle cx="717.12" cy="301.65" r="2.78"/><circle cx="717.41" cy="300.61" r="2.78"/><circle cx="718.53" cy="300.15" r="2.78"/><circle cx="718.78" cy="299.07" r="2.78"/><circle cx="720.00" cy="298.59" r="2.78"/><circle cx="719.99" cy="297.39" r="2.78"/><circle cx="720.60" cy="296.13" r="2.78"/><circle cx="720.20" cy="294.14" r="2.78"/><circle cx="721.02" cy="292.68" r="2.78"/><circle cx="721.23" cy="290.96" r="2.78"/><circle cx="722.60" cy="289.70" r="2.78"/><circle cx="722.83" cy="288.18" r="2.78"/><circle cx="723.88" cy="287.29" r="2.78"/><circle cx="724.25" cy="286.07" r="2.78"/><circle cx="725.70" cy="285.41" r="2.78"/><circle cx="726.15" cy="284.23" r="2.78"/><circle cx="727.11" cy="283.31" r="2.78"/><circle cx="726.69" cy="281.64" r="2.78"/><circle cx="727.49" cy="280.57" r="2.78"/><circle cx="727.34" cy="279.02" r="2.78"/><circle cx="728.41" cy="278.09" r="2.78"/><circle cx="728.58" cy="276.68" r="2.78"/><circle cx="729.50" cy="275.77" r="2.78"/><circle cx="729.63" cy="274.65" r="2.78"/><circle cx="731.07" cy="274.39" r="2.78"/><circle cx="731.79" cy="273.66" r="2.78"/><circle cx="733.07" cy="273.18" r="2.78"/><circle cx="732.99" cy="271.59" r="2.78"/><circle cx="733.72" cy="270.45" r="2.78"/><circle cx="733.77" cy="268.99" r="2.78"/><circle cx="734.97" cy="268.09" r="2.78"/><circle cx="734.73" cy="266.49" r="2.78"/><circle cx="735.27" cy="265.18" r="2.78"/><circle cx="735.17" cy="263.58" r="2.78"/><circle cx="736.44" cy="262.59" r="2.78"/><circle cx="736.82" cy="261.21" r="2.78"/><circle cx="738.33" cy="260.34" r="2.78"/><circle cx="738.61" cy="258.90" r="2.78"/><circle cx="739.79" cy="257.92" r="2.78"/><circle cx="739.78" cy="256.46" r="2.78"/><circle cx="741.19" cy="255.69" r="2.78"/><circle cx="741.07" cy="254.17" r="2.78"/><circle cx="741.95" cy="253.14" r="2.78"/><circle cx="741.34" cy="251.35" r="2.78"/><circle cx="742.20" cy="250.31" r="2.78"/><circle cx="742.51" cy="249.05" r="2.78"/><circle cx="743.93" cy="248.54" r="2.78"/><circle cx="744.16" cy="247.34" r="2.78"/><circle cx="745.23" cy="246.65" r="2.78"/><circle cx="745.53" cy="245.50" r="2.78"/><circle cx="746.95" cy="245.02" r="2.78"/><circle cx="747.14" cy="243.80" r="2.78"/><circle cx="748.17" cy="243.08" r="2.78"/><circle cx="747.85" cy="241.54" r="2.78"/><circle cx="748.64" cy="240.60" r="2.78"/><circle cx="748.62" cy="239.20" r="2.78"/><circle cx="749.69" cy="238.41" r="2.78"/><circle cx="749.70" cy="237.04" r="2.78"/><circle cx="750.81" cy="236.27" r="2.78"/><circle cx="750.75" cy="234.87" r="2.78"/><circle cx="752.22" cy="234.22" r="2.78"/><circle cx="752.76" cy="233.02" r="2.78"/><circle cx="754.18" cy="232.26" r="2.78"/><circle cx="754.31" cy="230.86" r="2.78"/><circle cx="755.01" cy="229.74" r="2.78"/><circle cx="754.91" cy="228.21" r="2.78"/><circle cx="756.00" cy="227.31" r="2.78"/><circle cx="755.92" cy="225.76" r="2.78"/><circle cx="756.57" cy="224.75" r="2.78"/><circle cx="756.53" cy="223.57" r="2.78"/><circle cx="757.65" cy="223.21" r="2.78"/><circle cx="758.12" cy="222.38" r="2.78"/><circle cx="759.47" cy="222.28" r="2.78"/><circle cx="759.82" cy="221.37" r="2.78"/><circle cx="760.89" cy="221.05" r="2.78"/><circle cx="760.88" cy="219.84" r="2.78"/><circle cx="762.08" cy="219.60" r="2.78"/><circle cx="762.08" cy="218.41" r="2.78"/><circle cx="763.16" cy="217.95" r="2.78"/><circle cx="762.62" cy="216.31" r="2.78"/><circle cx="763.42" cy="215.64" r="2.78"/><circle cx="763.52" cy="214.47" r="2.78"/><circle cx="765.05" cy="214.32" r="2.78"/><circle cx="765.23" cy="213.21" r="2.78"/><circle cx="766.58" cy="212.91" r="2.78"/><circle cx="766.76" cy="211.81" r="2.78"/><circle cx="767.86" cy="211.12" r="2.78"/><circle cx="768.23" cy="209.88" r="2.78"/><circle cx="769.38" cy="209.08" r="2.78"/><circle cx="769.27" cy="207.60" r="2.78"/><circle cx="769.83" cy="206.49" r="2.78"/><circle cx="769.62" cy="204.94" r="2.78"/><circle cx="770.64" cy="204.45" r="2.78"/><circle cx="770.95" cy="203.47" r="2.78"/><circle cx="772.02" cy="203.07" r="2.78"/><circle cx="772.02" cy="201.79" r="2.78"/><circle cx="773.39" cy="201.84" r="2.78"/><circle cx="773.85" cy="201.23" r="2.78"/><circle cx="774.96" cy="201.33" r="2.78"/><circle cx="775.25" cy="200.50" r="2.78"/>
<circle cx="776.96" cy="193.11" r="2.78"/><circle cx="777.32" cy="192.37" r="2.78"/><circle cx="778.07" cy="192.34" r="2.78"/><circle cx="778.42" cy="191.59" r="2.78"/><circle cx="779.12" cy="191.47" r="2.78"/><circle cx="779.71" cy="191.14" r="2.78"/><circle cx="780.57" cy="191.31" r="2.78"/><circle cx="781.06" cy="190.81" r="2.78"/><circle cx="781.88" cy="190.89" r="2.78"/><circle cx="782.22" cy="190.13" r="2.78"/><circle cx="783.01" cy="190.11" r="2.78"/><circle cx="783.33" cy="189.30" r="2.78"/><circle cx="784.18" cy="189.20" r="2.78"/><circle cx="784.28" cy="188.10" r="2.78"/><circle cx="784.92" cy="187.71" r="2.78"/><circle cx="785.17" cy="186.83" r="2.78"/><circle cx="786.26" cy="187.02" r="2.78"/><circle cx="786.75" cy="186.45" r="2.78"/><circle cx="787.67" cy="186.42" r="2.78"/><circle cx="787.96" cy="185.58" r="2.78"/><circle cx="788.97" cy="185.67" r="2.78"/><circle cx="789.43" cy="185.05" r="2.78"/><circle cx="790.20" cy="184.84" r="2.78"/><circle cx="790.40" cy="183.88" r="2.78"/><circle cx="791.08" cy="183.56" r="2.78"/><circle cx="791.23" cy="182.55" r="2.78"/><circle cx="792.07" cy="182.51" r="2.78"/><circle cx="792.46" cy="181.83" r="2.78"/><circle cx="793.34" cy="181.88" r="2.78"/><circle cx="793.74" cy="181.20" r="2.78"/><circle cx="794.51" cy="181.09" r="2.78"/><circle cx="795.09" cy="180.69" r="2.78"/><circle cx="796.04" cy="180.84" r="2.78"/><circle cx="796.40" cy="180.11" r="2.78"/><circle cx="797.16" cy="179.97" r="2.78"/><circle cx="797.28" cy="178.91" r="2.78"/><circle cx="797.97" cy="178.66" r="2.78"/><circle cx="798.37" cy="177.96" r="2.78"/><circle cx="799.10" cy="177.67" r="2.78"/><circle cx="799.32" cy="176.73" r="2.78"/><circle cx="800.12" cy="176.51" r="2.78"/><circle cx="800.57" cy="175.85" r="2.78"/><circle cx="801.83" cy="176.17" r="2.78"/><circle cx="802.22" cy="175.45" r="2.78"/><circle cx="803.18" cy="175.40" r="2.78"/><circle cx="803.49" cy="174.57" r="2.78"/><circle cx="804.26" cy="174.27" r="2.78"/><circle cx="804.35" cy="173.18" r="2.78"/><circle cx="805.36" cy="173.15" r="2.78"/><circle cx="805.41" cy="172.03" r="2.78"/><circle cx="805.98" cy="171.49" r="2.78"/><circle cx="806.21" cy="170.58" r="2.78"/><circle cx="807.19" cy="170.51" r="2.78"/><circle cx="807.82" cy="170.06" r="2.78"/><circle cx="809.10" cy="170.23" r="2.78"/><circle cx="809.12" cy="169.18" r="2.78"/><circle cx="810.33" cy="168.89" r="2.78"/><circle cx="810.55" cy="167.65" r="2.78"/><circle cx="811.63" cy="167.02" r="2.78"/><circle cx="811.71" cy="165.76" r="2.78"/><circle cx="812.40" cy="164.89" r="2.78"/><circle cx="811.90" cy="163.14" r="2.78"/><circle cx="812.87" cy="162.42" r="2.78"/><circle cx="813.45" cy="161.93" r="2.78"/><circle cx="814.46" cy="162.35" r="2.78"/><circle cx="814.98" cy="161.99" r="2.78"/><circle cx="815.64" cy="162.05" r="2.78"/><circle cx="816.19" cy="161.76" r="2.78"/><circle cx="816.84" cy="161.83" r="2.78"/><circle cx="817.42" cy="161.63" r="2.78"/><circle cx="818.06" cy="161.60" r="2.78"/><circle cx="818.52" cy="161.08" r="2.78"/><circle cx="819.13" cy="160.92" r="2.78"/><circle cx="819.54" cy="160.21" r="2.78"/><circle cx="820.25" cy="160.04" r="2.78"/><circle cx="820.57" cy="159.26" r="2.78"/><circle cx="821.38" cy="159.20" r="2.78"/><circle cx="821.77" cy="158.51" r="2.78"/><circle cx="822.78" cy="158.75" r="2.78"/><circle cx="823.29" cy="158.24" r="2.78"/><circle cx="824.33" cy="158.41" r="2.78"/><circle cx="824.58" cy="157.44" r="2.78"/><circle cx="825.42" cy="157.17" r="2.78"/><circle cx="825.41" cy="155.95" r="2.78"/><circle cx="826.31" cy="155.79" r="2.78"/><circle cx="826.60" cy="154.97" r="2.78"/><circle cx="827.25" cy="154.67" r="2.78"/><circle cx="827.54" cy="153.82" r="2.78"/><circle cx="828.36" cy="153.82" r="2.78"/><circle cx="828.94" cy="153.47" r="2.78"/><circle cx="830.03" cy="153.73" r="2.78"/><circle cx="830.52" cy="153.14" r="2.78"/><circle cx="831.35" cy="152.55" r="2.78"/><circle cx="831.42" cy="151.32" r="2.78"/><circle cx="832.60" cy="151.00" r="2.78"/><circle cx="832.77" cy="149.91" r="2.78"/><circle cx="833.55" cy="149.30" r="2.78"/><circle cx="833.17" cy="147.76" r="2.78"/><circle cx="833.93" cy="147.27" r="2.78"/><circle cx="834.21" cy="146.34" r="2.78"/><circle cx="835.60" cy="146.44" r="2.78"/><circle cx="835.93" cy="145.56" r="2.78"/><circle cx="836.90" cy="145.32" r="2.78"/><circle cx="837.27" cy="144.46" r="2.78"/><circle cx="838.18" cy="144.53" r="2.78"/><circle cx="838.61" cy="144.13" r="2.78"/><circle cx="839.22" cy="144.08" r="2.78"/><circle cx="839.67" cy="143.51" r="2.78"/><circle cx="840.25" cy="143.28" r="2.78"/><circle cx="840.70" cy="142.73" r="2.78"/><circle cx="841.36" cy="142.77" r="2.78"/><circle cx="841.67" cy="142.25" r="2.78"/><circle cx="842.53" cy="142.16" r="2.78"/><circle cx="842.58" cy="140.81" r="2.78"/><circle cx="844.02" cy="140.47" r="2.78"/><circle cx="844.28" cy="139.31" r="2.78"/><circle cx="845.90" cy="138.98" r="2.78"/><circle cx="845.96" cy="137.70" r="2.78"/><circle cx="846.69" cy="136.80" r="2.78"/><circle cx="846.38" cy="135.21" r="2.78"/><circle cx="847.47" cy="134.18" r="2.78"/><circle cx="847.53" cy="132.64" r="2.78"/><circle cx="848.38" cy="131.48" r="2.78"/><circle cx="848.30" cy="129.88" r="2.78"/><circle cx="849.28" cy="128.77" r="2.78"/><circle cx="849.67" cy="127.38" r="2.78"/><circle cx="851.32" cy="127.24" r="2.78"/><circle cx="851.55" cy="126.24" r="2.78"/><circle cx="852.67" cy="125.88" r="2.78"/><circle cx="852.68" cy="124.66" r="2.78"/><circle cx="853.71" cy="124.24" r="2.78"/><circle cx="853.81" cy="123.08" r="2.78"/><circle cx="854.74" cy="122.73" r="2.78"/><circle cx="854.60" cy="121.54" r="2.78"/><circle cx="855.27" cy="121.17" r="2.78"/><circle cx="855.58" cy="120.34" r="2.78"/><circle cx="856.65" cy="120.57" r="2.78"/><circle cx="857.17" cy="120.04" r="2.78"/><circle cx="858.01" cy="120.04" r="2.78"/><circle cx="858.43" cy="119.42" r="2.78"/><circle cx="859.10" cy="119.43" r="2.78"/><circle cx="859.65" cy="119.15" r="2.78"/><circle cx="860.30" cy="119.15" r="2.78"/><circle cx="860.79" cy="118.67" r="2.78"/><circle cx="861.38" cy="118.50" r="2.78"/><circle cx="861.79" cy="117.87" r="2.78"/><circle cx="862.43" cy="117.85" r="2.78"/><circle cx="862.88" cy="117.31" r="2.78"/><circle cx="863.70" cy="117.24" r="2.78"/><circle cx="863.97" cy="116.36" r="2.78"/><circle cx="864.97" cy="116.45" r="2.78"/><circle cx="865.45" cy="115.86" r="2.78"/><circle cx="866.50" cy="115.96" r="2.78"/><circle cx="867.00" cy="115.35" r="2.78"/><circle cx="867.62" cy="114.87" r="2.78"/><circle cx="867.70" cy="113.78" r="2.78"/><circle cx="868.45" cy="113.46" r="2.78"/>
<circle cx="869.60" cy="109.40" r="2.78"/><circle cx="870.16" cy="109.20" r="2.78"/><circle cx="870.72" cy="109.00" r="2.78"/><circle cx="871.28" cy="108.80" r="2.78"/><circle cx="871.84" cy="108.60" r="2.78"/><circle cx="872.40" cy="108.40" r="2.78"/>
<circle cx="874.60" cy="102.40" r="2.78"/><circle cx="875.20" cy="102.40" r="2.78"/><circle cx="875.80" cy="102.40" r="2.78"/><circle cx="876.40" cy="102.40" r="2.78"/><circle cx="877.00" cy="102.40" r="2.78"/><circle cx="877.60" cy="102.40" r="2.78"/><circle cx="878.20" cy="102.40" r="2.78"/><circle cx="878.80" cy="102.40" r="2.78"/><circle cx="879.40" cy="102.40" r="2.78"/>
</g>
<path class="tk" d="M548.50 445.50V450.50M618.50 445.50V450.50M689.50 445.50V450.50M759.50 445.50V450.50M830.50 445.50V450.50M900.50 445.50V450.50M548.50 445.50H543.50M548.50 361.50H543.50M548.50 278.50H543.50M548.50 194.50H543.50M548.50 110.50H543.50"/>
<rect class="ax" x="548.50" y="60.50" width="352.00" height="385.00"/>
<text class="t" x="547.73" y="465.27">2000</text>
<text class="t" x="618.18" y="465.27">2005</text>
<text class="t" x="688.64" y="465.27">2010</text>
<text class="t" x="759.09" y="465.27">2015</text>
<text class="t" x="829.55" y="465.27">2020</text>
<text class="t" x="900.00" y="465.27">2025</text>
<text class="e" x="538.01" y="449.75">0</text>
<text class="e" x="538.01" y="366.05">100</text>
<text class="e" x="538.01" y="282.36">200</text>
<text class="e" x="538.01" y="198.66">300</text>
<text class="e" x="538.01" y="114.97">400</text>
<text class="t" x="724.36" y="482.92">Time (year)</text>
<text class="t" transform="translate(504.99 253.4) rotate(-90)">FA Cummulative Moter Dist (mm)</text>
<text class="b" x="565.34" y="97.5">FA</text>
</g>
</svg>
</body></html>
